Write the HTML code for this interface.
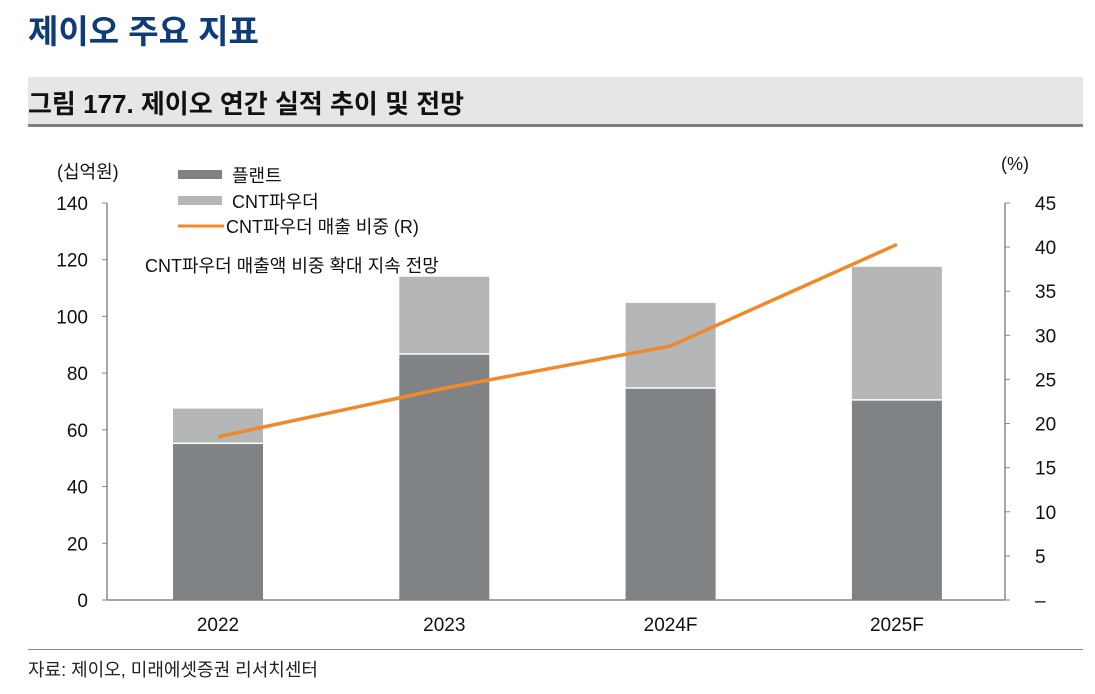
<!DOCTYPE html>
<html><head><meta charset="utf-8"><style>
body{margin:0;width:1095px;height:694px;background:#fff;overflow:hidden;font-family:"Liberation Sans","Noto Sans CJK KR",sans-serif}
</style></head><body>
<div style="position:absolute;left:28px;top:5px;font-size:33px;font-weight:bold;color:#0f3c78">제이오 주요 지표</div>
<div style="position:absolute;left:28px;top:77px;width:1055px;height:47px;background:#e6e6e6;border-bottom:3px solid #7f7f7f"></div>
<div style="position:absolute;left:28px;top:84px;font-size:26px;font-weight:bold;color:#111">그림 177. 제이오 연간 실적 추이 및 전망</div>
<svg width="1095" height="694" style="position:absolute;left:0;top:0" font-family="Liberation Sans, Noto Sans CJK KR, sans-serif">
<g id="g"></g>
</svg>
<div style="position:absolute;left:28px;top:649px;width:1055px;border-top:1px solid #888;padding-top:6px;font-size:18px;color:#222">자료: 제이오, 미래에셋증권 리서치센터</div>
<script>
const categories=["2022","2023","2024F","2025F"];
const plant=[55,86.5,74.5,70.3];
const cnt=[12.5,27.5,30.3,47.2];
const share=[18.5,24.0,28.8,40.3];
const leftTicks=[0,20,40,60,80,100,120,140];
const rightTicks=["–","5","10","15","20","25","30","35","40","45"];
const NS="http://www.w3.org/2000/svg";
const g=document.getElementById("g");
const y0=600,yTop=203;
const yL=v=>y0-(v/140)*(y0-yTop);
const yR=v=>y0-(v/45)*(y0-yTop);
const xC=i=>218+i*226.3;
function mk(t,a,txt){const e=document.createElementNS(NS,t);for(const k in a)e.setAttribute(k,a[k]);if(txt!==undefined)e.textContent=txt;g.appendChild(e);return e;}
let e;
e=mk("line",{x1:107,y1:yTop,x2:107,y2:y0,stroke:"#888","stroke-width":1.5});

e=mk("line",{x1:1005,y1:yTop,x2:1005,y2:y0,stroke:"#888","stroke-width":1.5});

e=mk("line",{x1:107,y1:y0,x2:1005,y2:y0,stroke:"#888","stroke-width":1.5});

leftTicks.forEach(v=>{mk("line",{x1:102,y1:yL(v),x2:107,y2:yL(v),stroke:"#888"});
e=mk("text",{x:88,y:yL(v)+7,"text-anchor":"end","font-size":19,fill:"#111"},String(v));
});
rightTicks.forEach((t,i)=>{const y=yR(i*5);mk("line",{x1:1005,y1:y,x2:1010,y2:y,stroke:"#888"});
e=mk("text",{x:1035,y:y+7,"font-size":19,fill:"#111"},t);
});
categories.forEach((c,i)=>{const x=xC(i);
e=mk("rect",{x:x-45,y:yL(plant[i]),width:90,height:y0-yL(plant[i]),fill:"#808385"});

e=mk("rect",{x:x-45,y:yL(plant[i]+cnt[i]),width:90,height:yL(plant[i])-yL(plant[i]+cnt[i])-1.5,fill:"#b5b6b8"});

e=mk("text",{x:x,y:631,"text-anchor":"middle","font-size":19,fill:"#111"},c);
});
e=mk("polyline",{points:share.map((v,i)=>xC(i)+","+yR(v)).join(" "),fill:"none",stroke:"#f0892a","stroke-width":3.5});

e=mk("text",{x:57,y:178,"font-size":18,fill:"#111"},"(십억원)");

e=mk("text",{x:1001,y:170,"font-size":18,fill:"#111"},"(%)");

e=mk("rect",{x:178,y:170,width:44,height:9,fill:"#808385"});

e=mk("text",{x:232,y:182,"font-size":18,fill:"#111"},"플랜트");

e=mk("rect",{x:178,y:196,width:44,height:9,fill:"#b5b6b8"});

e=mk("text",{x:232,y:208,"font-size":18,fill:"#111"},"CNT파우더");

e=mk("line",{x1:178,y1:226,x2:224,y2:226,stroke:"#f0892a","stroke-width":3});

e=mk("text",{x:226,y:233,"font-size":18,fill:"#111"},"CNT파우더 매출 비중 (R)");

e=mk("text",{x:145,y:272,"font-size":18,fill:"#111"},"CNT파우더 매출액 비중 확대 지속 전망");

</script>
</body></html>
